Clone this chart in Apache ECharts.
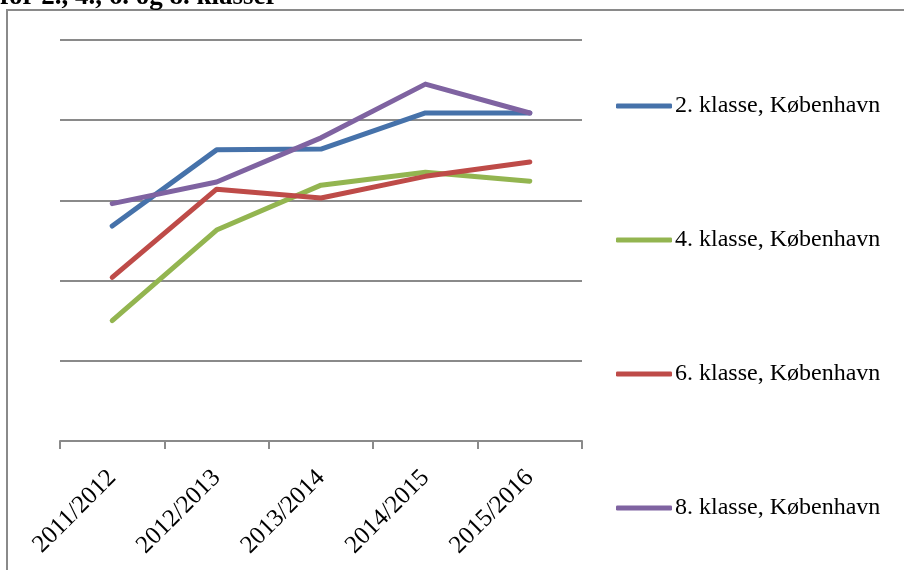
<!DOCTYPE html>
<html>
<head>
<meta charset="utf-8">
<style>html,body{margin:0;padding:0;background:#fff;}#c{width:904px;height:570px;}</style>
<script src="https://cdn.jsdelivr.net/npm/echarts@6/dist/echarts.min.js"></script>
</head>
<body>
<div id="c"></div>
<script>
const categories = ['2011/2012','2012/2013','2013/2014','2014/2015','2015/2016'];
const seriesNames = ['2. klasse, København','4. klasse, København','6. klasse, København','8. klasse, København'];
const klasse2 = [2.68, 3.63, 3.64, 4.09, 4.09];
const klasse4 = [1.50, 2.63, 3.19, 3.35, 3.24];
const klasse6 = [2.04, 3.14, 3.03, 3.30, 3.48];
const klasse8 = [2.96, 3.23, 3.78, 4.45, 4.09];
const titleText = 'for 2., 4., 6. og 8. klasser';

const colors = ['#4672AA','#93B550','#BE4B48','#7F63A1'];
const values = [klasse2, klasse4, klasse6, klasse8];
const font = '"Liberation Serif", "Times New Roman", serif';
const legendTops = [106, 240, 374, 508];

const chart = echarts.init(document.getElementById('c'), null, {renderer:'canvas'});
chart.setOption({
  animation: false,
  backgroundColor: '#fff',
  graphic: [
    {type:'rect', shape:{x:7, y:10, width:1000, height:1000}, style:{fill:'none', stroke:'#8a8a8a', lineWidth:2}, z:-1},
    {type:'text', x:0, y:11, style:{text:titleText, font:'bold 27px ' + font, fill:'#000', textVerticalAlign:'bottom'}}
  ],
  legend: seriesNames.map((n,i)=>({
    data:[n], orient:'vertical', left:616, top:legendTops[i]-12, padding:0,
    icon:'roundRect', itemWidth:56, itemHeight:5, itemGap:0,
    textStyle:{fontFamily:font, fontSize:24, color:'#000', padding:[0,0,0,-2]},
    selectedMode:false
  })),
  grid: {left:60, right:322, top:40, bottom:129, containLabel:false},
  xAxis: {
    type:'category', data:categories, boundaryGap:true,
    axisLine:{lineStyle:{color:'#8a8a8a', width:2}},
    axisTick:{show:true, length:8, interval:0, lineStyle:{color:'#8a8a8a', width:2}},
    axisLabel:{rotate:45, interval:0, margin:33, fontFamily:font, fontSize:25, color:'#000'}
  },
  yAxis: {
    type:'value', min:0, max:5, interval:1,
    axisLabel:{show:false}, axisTick:{show:false}, axisLine:{show:false},
    splitLine:{lineStyle:{color:'#8a8a8a', width:2}}
  },
  series: seriesNames.map((n,i)=>({
    name:n, type:'line', data:values[i], showSymbol:false, symbol:'none',
    lineStyle:{color:colors[i], width:5, cap:'round', join:'round'},
    itemStyle:{color:colors[i]}
  }))
});
</script>
</body>
</html>
